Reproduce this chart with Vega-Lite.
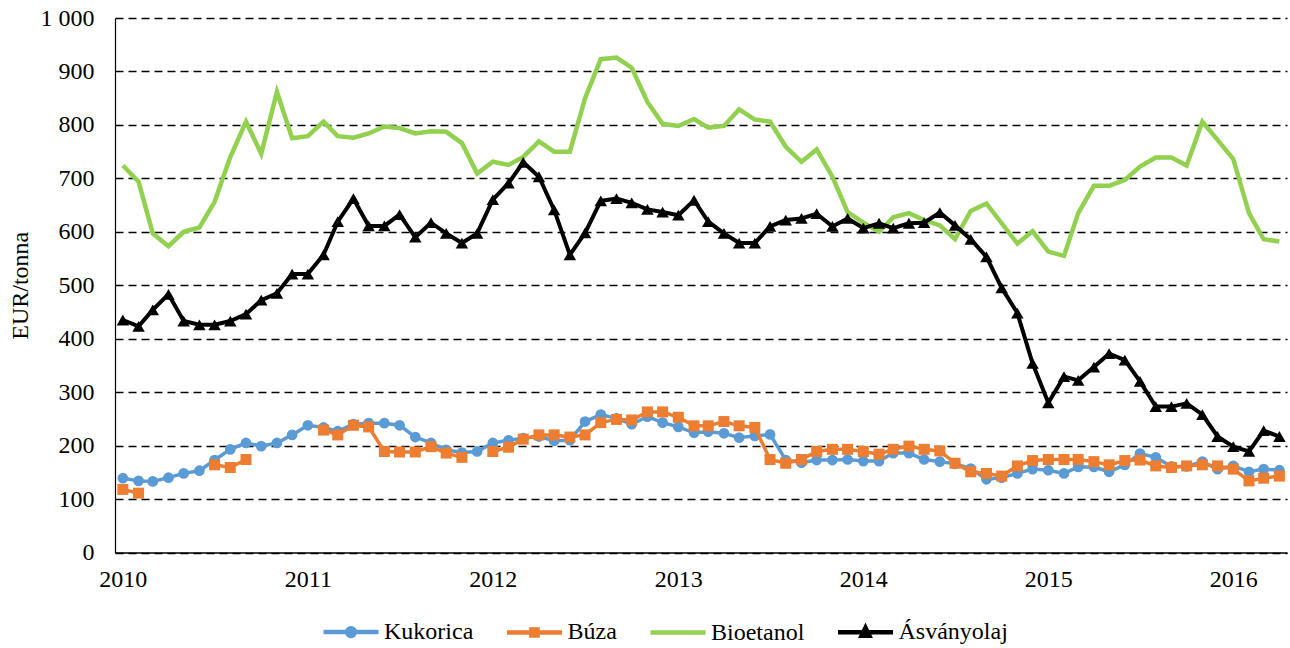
{
  "$schema": "https://vega.github.io/schema/vega-lite/v6.json",
  "autosize": {"type": "none"},
  "padding": {"left": 115, "top": 18, "right": 3, "bottom": 95.5},
  "width": 1172,
  "height": 534.5,
  "background": "#ffffff",
  "config": {
    "view": {"stroke": null},
    "font": "Liberation Serif",
    "axis": {"labelFont": "Liberation Serif", "titleFont": "Liberation Serif", "labelColor": "#000", "titleColor": "#000", "labelFontSize": 24, "titleFontSize": 24, "titleFontWeight": "normal"},
    "legend": {"labelFont": "Liberation Serif", "labelFontSize": 24, "labelColor": "#000"}
  },
  "data": {"values": [
    {"month": "2010-01-01", "kukorica": 139, "buza": 118, "bioetanol": 724, "asvanyolaj": 435},
    {"month": "2010-02-01", "kukorica": 134, "buza": 111, "bioetanol": 694, "asvanyolaj": 423},
    {"month": "2010-03-01", "kukorica": 133, "buza": null, "bioetanol": 597, "asvanyolaj": 454},
    {"month": "2010-04-01", "kukorica": 140, "buza": null, "bioetanol": 573, "asvanyolaj": 483},
    {"month": "2010-05-01", "kukorica": 148, "buza": null, "bioetanol": 600, "asvanyolaj": 433},
    {"month": "2010-06-01", "kukorica": 153, "buza": null, "bioetanol": 608, "asvanyolaj": 426},
    {"month": "2010-07-01", "kukorica": 173, "buza": 164, "bioetanol": 656, "asvanyolaj": 426},
    {"month": "2010-08-01", "kukorica": 193, "buza": 159, "bioetanol": 740, "asvanyolaj": 433},
    {"month": "2010-09-01", "kukorica": 205, "buza": 174, "bioetanol": 806, "asvanyolaj": 446},
    {"month": "2010-10-01", "kukorica": 199, "buza": null, "bioetanol": 746, "asvanyolaj": 472},
    {"month": "2010-11-01", "kukorica": 205, "buza": null, "bioetanol": 862, "asvanyolaj": 485},
    {"month": "2010-12-01", "kukorica": 220, "buza": null, "bioetanol": 775, "asvanyolaj": 521},
    {"month": "2011-01-01", "kukorica": 238, "buza": null, "bioetanol": 779, "asvanyolaj": 521},
    {"month": "2011-02-01", "kukorica": 234, "buza": 229, "bioetanol": 806, "asvanyolaj": 557},
    {"month": "2011-03-01", "kukorica": 227, "buza": 220, "bioetanol": 779, "asvanyolaj": 619},
    {"month": "2011-04-01", "kukorica": 240, "buza": 238, "bioetanol": 776, "asvanyolaj": 662},
    {"month": "2011-05-01", "kukorica": 242, "buza": 235, "bioetanol": 784, "asvanyolaj": 611},
    {"month": "2011-06-01", "kukorica": 242, "buza": 189, "bioetanol": 797, "asvanyolaj": 611},
    {"month": "2011-07-01", "kukorica": 238, "buza": 188, "bioetanol": 794, "asvanyolaj": 632},
    {"month": "2011-08-01", "kukorica": 216, "buza": 188, "bioetanol": 784, "asvanyolaj": 590},
    {"month": "2011-09-01", "kukorica": 205, "buza": 198, "bioetanol": 788, "asvanyolaj": 617},
    {"month": "2011-10-01", "kukorica": 192, "buza": 186, "bioetanol": 787, "asvanyolaj": 597},
    {"month": "2011-11-01", "kukorica": 187, "buza": 178, "bioetanol": 766, "asvanyolaj": 579},
    {"month": "2011-12-01", "kukorica": 189, "buza": null, "bioetanol": 709, "asvanyolaj": 597},
    {"month": "2012-01-01", "kukorica": 205, "buza": 189, "bioetanol": 731, "asvanyolaj": 660},
    {"month": "2012-02-01", "kukorica": 210, "buza": 197, "bioetanol": 725, "asvanyolaj": 691},
    {"month": "2012-03-01", "kukorica": 214, "buza": 212, "bioetanol": 740, "asvanyolaj": 730},
    {"month": "2012-04-01", "kukorica": 217, "buza": 220, "bioetanol": 769, "asvanyolaj": 703},
    {"month": "2012-05-01", "kukorica": 209, "buza": 220, "bioetanol": 750, "asvanyolaj": 641},
    {"month": "2012-06-01", "kukorica": 210, "buza": 216, "bioetanol": 750, "asvanyolaj": 557},
    {"month": "2012-07-01", "kukorica": 245, "buza": 220, "bioetanol": 850, "asvanyolaj": 598},
    {"month": "2012-08-01", "kukorica": 258, "buza": 243, "bioetanol": 923, "asvanyolaj": 658},
    {"month": "2012-09-01", "kukorica": 251, "buza": 249, "bioetanol": 926, "asvanyolaj": 662},
    {"month": "2012-10-01", "kukorica": 240, "buza": 248, "bioetanol": 907, "asvanyolaj": 654},
    {"month": "2012-11-01", "kukorica": 254, "buza": 263, "bioetanol": 843, "asvanyolaj": 642},
    {"month": "2012-12-01", "kukorica": 243, "buza": 263, "bioetanol": 802, "asvanyolaj": 637},
    {"month": "2013-01-01", "kukorica": 235, "buza": 253, "bioetanol": 798, "asvanyolaj": 631},
    {"month": "2013-02-01", "kukorica": 224, "buza": 237, "bioetanol": 811, "asvanyolaj": 659},
    {"month": "2013-03-01", "kukorica": 226, "buza": 237, "bioetanol": 795, "asvanyolaj": 619},
    {"month": "2013-04-01", "kukorica": 223, "buza": 245, "bioetanol": 798, "asvanyolaj": 597},
    {"month": "2013-05-01", "kukorica": 215, "buza": 237, "bioetanol": 829, "asvanyolaj": 579},
    {"month": "2013-06-01", "kukorica": 218, "buza": 234, "bioetanol": 810, "asvanyolaj": 579},
    {"month": "2013-07-01", "kukorica": 221, "buza": 174, "bioetanol": 806, "asvanyolaj": 610},
    {"month": "2013-08-01", "kukorica": 173, "buza": 167, "bioetanol": 759, "asvanyolaj": 622},
    {"month": "2013-09-01", "kukorica": 168, "buza": 174, "bioetanol": 731, "asvanyolaj": 625},
    {"month": "2013-10-01", "kukorica": 173, "buza": 189, "bioetanol": 754, "asvanyolaj": 634},
    {"month": "2013-11-01", "kukorica": 173, "buza": 193, "bioetanol": 703, "asvanyolaj": 610},
    {"month": "2013-12-01", "kukorica": 174, "buza": 193, "bioetanol": 637, "asvanyolaj": 625},
    {"month": "2014-01-01", "kukorica": 171, "buza": 189, "bioetanol": 617, "asvanyolaj": 607},
    {"month": "2014-02-01", "kukorica": 171, "buza": 184, "bioetanol": 600, "asvanyolaj": 616},
    {"month": "2014-03-01", "kukorica": 186, "buza": 193, "bioetanol": 627, "asvanyolaj": 607},
    {"month": "2014-04-01", "kukorica": 186, "buza": 199, "bioetanol": 635, "asvanyolaj": 616},
    {"month": "2014-05-01", "kukorica": 174, "buza": 193, "bioetanol": 622, "asvanyolaj": 617},
    {"month": "2014-06-01", "kukorica": 170, "buza": 190, "bioetanol": 612, "asvanyolaj": 636},
    {"month": "2014-07-01", "kukorica": 166, "buza": 167, "bioetanol": 586, "asvanyolaj": 612},
    {"month": "2014-08-01", "kukorica": 157, "buza": 151, "bioetanol": 639, "asvanyolaj": 586},
    {"month": "2014-09-01", "kukorica": 137, "buza": 148, "bioetanol": 653, "asvanyolaj": 553},
    {"month": "2014-10-01", "kukorica": 140, "buza": 143, "bioetanol": 616, "asvanyolaj": 495},
    {"month": "2014-11-01", "kukorica": 148, "buza": 162, "bioetanol": 578, "asvanyolaj": 448},
    {"month": "2014-12-01", "kukorica": 156, "buza": 172, "bioetanol": 601, "asvanyolaj": 354},
    {"month": "2015-01-01", "kukorica": 154, "buza": 174, "bioetanol": 563, "asvanyolaj": 280},
    {"month": "2015-02-01", "kukorica": 148, "buza": 174, "bioetanol": 555, "asvanyolaj": 329},
    {"month": "2015-03-01", "kukorica": 160, "buza": 174, "bioetanol": 635, "asvanyolaj": 322},
    {"month": "2015-04-01", "kukorica": 160, "buza": 170, "bioetanol": 686, "asvanyolaj": 347},
    {"month": "2015-05-01", "kukorica": 151, "buza": 164, "bioetanol": 686, "asvanyolaj": 372},
    {"month": "2015-06-01", "kukorica": 164, "buza": 172, "bioetanol": 697, "asvanyolaj": 360},
    {"month": "2015-07-01", "kukorica": 185, "buza": 173, "bioetanol": 722, "asvanyolaj": 320},
    {"month": "2015-08-01", "kukorica": 178, "buza": 162, "bioetanol": 739, "asvanyolaj": 273},
    {"month": "2015-09-01", "kukorica": 161, "buza": 159, "bioetanol": 739, "asvanyolaj": 273},
    {"month": "2015-10-01", "kukorica": 161, "buza": 162, "bioetanol": 724, "asvanyolaj": 279},
    {"month": "2015-11-01", "kukorica": 170, "buza": 164, "bioetanol": 806, "asvanyolaj": 258},
    {"month": "2015-12-01", "kukorica": 156, "buza": 162, "bioetanol": 772, "asvanyolaj": 217},
    {"month": "2016-01-01", "kukorica": 162, "buza": 156, "bioetanol": 736, "asvanyolaj": 198},
    {"month": "2016-02-01", "kukorica": 151, "buza": 134, "bioetanol": 635, "asvanyolaj": 189},
    {"month": "2016-03-01", "kukorica": 156, "buza": 139, "bioetanol": 586, "asvanyolaj": 228},
    {"month": "2016-04-01", "kukorica": 154, "buza": 143, "bioetanol": 582, "asvanyolaj": 217}
  ]},
  "encoding": {
    "x": {
      "field": "month", "type": "temporal",
      "scale": {"type": "utc", "domain": [{"year": 2009, "month": 12, "date": 16, "hours": 12, "utc": true}, {"year": 2016, "month": 4, "date": 16, "utc": true}]},
      "axis": {
        "title": null, "format": "%Y", "formatType": "utc",
        "values": [{"year": 2010, "month": 1, "date": 1, "utc": true}, {"year": 2011, "month": 1, "date": 1, "utc": true}, {"year": 2012, "month": 1, "date": 1, "utc": true}, {"year": 2013, "month": 1, "date": 1, "utc": true}, {"year": 2014, "month": 1, "date": 1, "utc": true}, {"year": 2015, "month": 1, "date": 1, "utc": true}, {"year": 2016, "month": 1, "date": 1, "utc": true}],
        "ticks": false, "grid": false, "labelFlush": false, "labelOverlap": false, "labelPadding": 15,
        "domain": true, "domainColor": "#000", "domainWidth": 1.5
      }
    }
  },
  "layer": [
    {
      "mark": {"type": "line", "strokeWidth": 3.5},
      "encoding": {
        "y": {"field": "kukorica", "type": "quantitative", "scale": {"domain": [0, 1000], "nice": false},
          "axis": {"title": "EUR/tonna", "titlePadding": 8, "values": [0, 100, 200, 300, 400, 500, 600, 700, 800, 900, 1000],
            "labelExpr": "replace(format(datum.value, ','), ',', ' ')", "ticks": false, "labelPadding": 21,
            "grid": true, "gridColor": "#000", "gridDash": [8, 5], "gridWidth": 1.5,
            "domain": true, "domainColor": "#000", "domainWidth": 1.2}},
        "color": {"datum": "Kukorica", "type": "nominal",
          "scale": {"domain": ["Kukorica", "Búza", "Bioetanol", "Ásványolaj"], "range": ["#5B9BD5", "#ED7D31", "#92D050", "#000000"]},
          "legend": {"title": null, "orient": "none", "legendX": 206, "legendY": 584, "direction": "horizontal", "columns": 4,
            "padding": 0, "symbolSize": 3025, "symbolStrokeWidth": 4.5, "labelOffset": 3, "columnPadding": 23.5,
            "encode": {"symbols": {"update": {
              "shape": {"signal": "datum.value === 'Kukorica' ? 'M-1,0H1M0.14,0A0.14,0.14,0,1,1,-0.14,0A0.14,0.14,0,1,1,0.14,0Z' : datum.value === 'Búza' ? 'M-1,0H1M-0.11,-0.11H0.11V0.11H-0.11Z' : datum.value === 'Ásványolaj' ? 'M-1,0H1M0,-0.17L0.14,0.12L-0.14,0.12Z' : 'M-1,0H1'"},
              "fill": {"scale": "color", "field": "value"},
              "stroke": {"scale": "color", "field": "value"},
              "strokeWidth": {"value": 4.5},
              "size": {"value": 3025},
              "opacity": {"value": 1}
            }}}}
        }
      }
    },
    {
      "mark": {"type": "point", "shape": "circle", "filled": true, "size": 115, "opacity": 1, "color": "#5B9BD5"},
      "encoding": {"y": {"field": "kukorica", "type": "quantitative"}}
    },
    {
      "mark": {"type": "line", "strokeWidth": 3.5, "invalid": "break-paths-filter-domains"},
      "encoding": {"y": {"field": "buza", "type": "quantitative"}, "color": {"datum": "Búza", "type": "nominal"}}
    },
    {
      "mark": {"type": "point", "shape": "square", "filled": true, "size": 121, "opacity": 1, "color": "#ED7D31"},
      "encoding": {"y": {"field": "buza", "type": "quantitative"}}
    },
    {
      "mark": {"type": "line", "strokeWidth": 4.5},
      "encoding": {"y": {"field": "bioetanol", "type": "quantitative"}, "color": {"datum": "Bioetanol", "type": "nominal"}}
    },
    {
      "mark": {"type": "line", "strokeWidth": 4},
      "encoding": {"y": {"field": "asvanyolaj", "type": "quantitative"}, "color": {"datum": "Ásványolaj", "type": "nominal"}}
    },
    {
      "mark": {"type": "point", "shape": "triangle-up", "filled": true, "size": 155, "opacity": 1, "color": "#000000"},
      "encoding": {"y": {"field": "asvanyolaj", "type": "quantitative"}}
    }
  ]
}
